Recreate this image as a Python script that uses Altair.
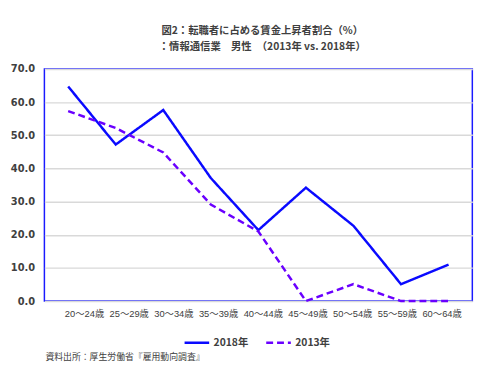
import altair as alt
import pandas as pd

ages = ["20～24歳", "25～29歳", "30～34歳", "35～39歳", "40～44歳",
        "45～49歳", "50～54歳", "55～59歳", "60～64歳"]
v2018 = [64.7, 47.2, 57.6, 37.1, 21.4, 34.2, 22.7, 5.1, 11.0]
v2013 = [57.3, 52.2, 44.8, 29.1, 21.0, 0.0, 5.1, 0.0, 0.0]
series = ["2018年", "2013年"]
y_ticks = [0, 10, 20, 30, 40, 50, 60, 70]
title_lines = ["図2：転職者に占める賃金上昇者割合（%）", "：情報通信業　男性　（2013年 vs. 2018年）"]
source_note = ["資料出所：厚生労働省『雇用動向調査』"]

rows = []
for a, v in zip(ages, v2018):
    rows.append({"age": a, "value": v, "series": series[0]})
for a, v in zip(ages, v2013):
    rows.append({"age": a, "value": v, "series": series[1]})
df = pd.DataFrame(rows)

JP = "Noto Sans CJK JP"
MIX = "Liberation Sans, Noto Sans CJK JP"
TXT = "#404040"

leg = dict(title=None, orient="none", direction="horizontal",
           legendX=141, legendY=264, symbolType="stroke",
           symbolSize=625, symbolStrokeWidth=2.5,
           labelFont=JP, labelFontSize=10.5, labelFontWeight="bold",
           labelColor=TXT, columnPadding=12, labelOffset=3)

lines = alt.Chart(df).mark_line(strokeWidth=2.5).encode(
    x=alt.X("age:N", sort=ages, axis=None,
            scale=alt.Scale(type="point", padding=0.5)),
    y=alt.Y("value:Q", scale=alt.Scale(domain=[0, 70]),
            axis=alt.Axis(values=y_ticks, format=".1f", title=None, domain=False,
                          ticks=False, labelPadding=10, labelFont="DejaVu Sans",
                          labelFontWeight="bold", labelFontSize=10, labelColor=TXT,
                          gridColor="#d9d9d9", gridWidth=1.5)),
    color=alt.Color("series:N", scale=alt.Scale(domain=series, range=["#0a0aff", "#6a00ff"]),
                    legend=alt.Legend(**leg)),
    strokeDash=alt.StrokeDash("series:N", scale=alt.Scale(domain=series, range=[[1, 0], [7, 4]]),
                              legend=alt.Legend(**leg)),
)

label_layer = alt.Chart(pd.DataFrame({"age": ages})).mark_point(opacity=0).encode(
    x=alt.X("age:N", sort=ages,
            scale=alt.Scale(type="point", range=[40.3, 403.8], padding=0),
            axis=alt.Axis(orient="bottom", title=None, domain=False, ticks=False,
                          grid=False, labelAngle=0, labelPadding=8, labelFont=MIX,
                          labelFontSize=9.5, labelColor=TXT)),
)

note = alt.Chart(pd.DataFrame({"t": source_note})).mark_text(
    align="left", baseline="middle", font=JP, fontSize=9, color=TXT
).encode(x=alt.value(1), y=alt.value(293), text="t:N")

chart = alt.layer(lines, label_layer, note).resolve_scale(x="independent").properties(
    width=435, height=236,
    padding={"left": 37, "top": 59, "right": 20, "bottom": 60},
    autosize=alt.AutoSizeParams(type="none"),
    title=alt.TitleParams(text=title_lines, anchor="middle", frame="group", dx=4, offset=12,
                          font=JP, fontSize=10.5, fontWeight="bold", color=TXT,
                          lineHeight=16),
).configure_view(stroke="#1a1aff", strokeWidth=1.5).configure_axis(labelColor=TXT)

chart.save("out.html", embed_options={"renderer": "svg", "actions": False})
